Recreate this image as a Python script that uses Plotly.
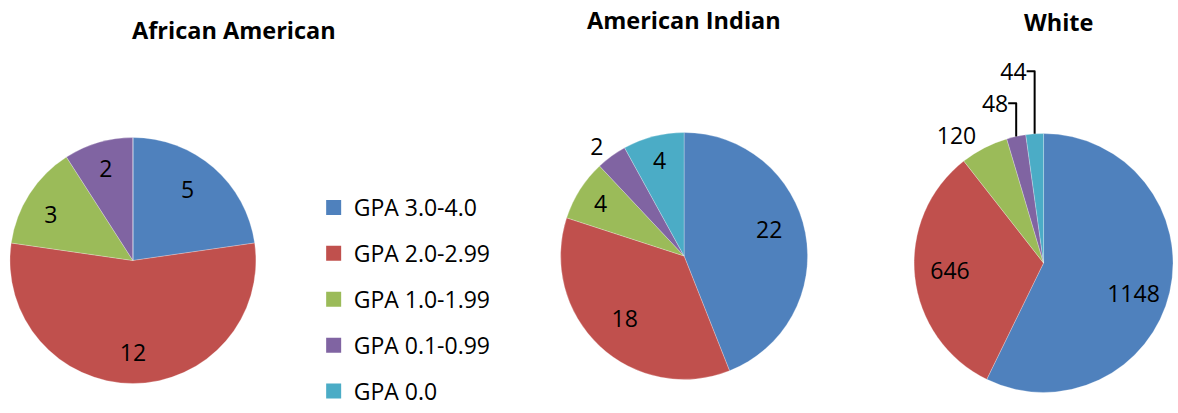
import plotly.graph_objects as go

categories = ["GPA 3.0-4.0", "GPA 2.0-2.99", "GPA 1.0-1.99", "GPA 0.1-0.99", "GPA 0.0"]
colors = ["#4F81BD", "#C0504D", "#9BBB59", "#8064A2", "#4BACC6"]

african_american = [5, 12, 3, 2, 0]
american_indian = [22, 18, 4, 2, 4]
white = [1148, 646, 120, 48, 44]

titles = ["African American", "American Indian", "White"]

W, H = 1178, 413
FONT = "'Open Sans', sans-serif"
NB = "\u00a0"


def px_x(a, b):
    return [a / W, b / W]


def px_y(top, bottom):
    return [1 - bottom / H, 1 - top / H]


def label(v, left=0, right=0, above=0, below=0):
    """Data label text, padded so it sits where the reference puts it."""
    if v <= 0:
        return ""
    return (NB + "<br>") * above + NB * left + str(v) + NB * right + ("<br>" + NB) * below


fig = go.Figure()

pies = [
    (african_american, px_x(10, 257), px_y(137, 384), ["inside"] * 5,
     [dict(left=2, below=1), dict(above=2), dict(right=3), {}, {}]),
    (american_indian, px_x(563, 811), px_y(132, 380),
     ["inside", "inside", "inside", "outside", "inside"],
     [dict(left=8, below=1), dict(right=5, above=1), {}, {}, {}]),
    (white, px_x(918, 1178), px_y(133, 393),
     ["inside", "inside", "outside", "outside", "outside"],
     [dict(left=9, above=1), dict(right=8), {}, {}, {}]),
]

for vals, dx, dy, tp, pads in pies:
    texts = [label(v, **p) for v, p in zip(vals, pads)]
    fig.add_trace(go.Pie(
        labels=categories, values=vals, text=texts, textinfo="text",
        sort=False, direction="clockwise", rotation=0,
        marker=dict(colors=colors, line=dict(color="rgba(255,255,255,0.5)", width=0.5)),
        domain=dict(x=dx, y=dy), textposition=tp,
        insidetextorientation="horizontal",
        textfont=dict(family=FONT, size=23, color="black"),
        showlegend=False, hoverinfo="label+value",
    ))

for cat, col in zip(categories, colors):
    fig.add_trace(go.Scatter(
        x=[None], y=[None], mode="markers", name=cat, legendgroup=cat,
        marker=dict(symbol="square", size=15, color=col), showlegend=True,
    ))

title_pos = [(235, 30), (687, 20), (1063, 22)]
for t, (cx, cy) in zip(titles, title_pos):
    fig.add_annotation(text="<b>" + t + "</b>", x=cx / W, y=1 - cy / H,
                       xref="paper", yref="paper", showarrow=False,
                       xanchor="center", yanchor="middle",
                       font=dict(family=FONT, size=23.5, color="black"))

fig.update_layout(
    width=W, height=H, margin=dict(l=0, r=0, t=0, b=0),
    paper_bgcolor="white", plot_bgcolor="white",
    xaxis=dict(visible=False), yaxis=dict(visible=False),
    legend=dict(x=315 / W, y=0, xanchor="left", yanchor="bottom",
                font=dict(family=FONT, size=23, color="black"),
                tracegroupgap=13, bgcolor="rgba(0,0,0,0)"),
    uniformtext=dict(minsize=23, mode="show"),
)

fig.write_html("out.html")
